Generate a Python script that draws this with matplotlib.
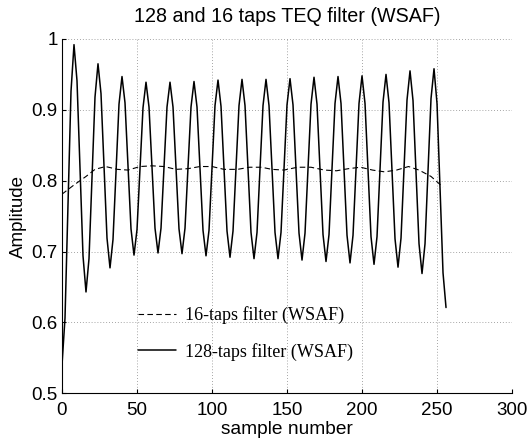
import numpy as np
import matplotlib
matplotlib.use('Agg')
import matplotlib.pyplot as plt
from matplotlib.ticker import FormatStrFormatter

# sample positions of the read-off points (every 2nd sample)
samples_128 = np.arange(0, 257, 2)
# 128-taps filter amplitude, one row per 16-sample period
amp_128 = [
    0.540, 0.606, 0.766, 0.926, 0.992, 0.941, 0.818, 0.694,
    0.643, 0.690, 0.804, 0.918, 0.965, 0.923, 0.821, 0.719,
    0.677, 0.717, 0.812, 0.908, 0.947, 0.910, 0.821, 0.732,
    0.695, 0.731, 0.817, 0.903, 0.939, 0.904, 0.819, 0.733,
    0.698, 0.733, 0.819, 0.904, 0.939, 0.904, 0.818, 0.732,
    0.697, 0.733, 0.819, 0.904, 0.940, 0.904, 0.817, 0.730,
    0.694, 0.730, 0.818, 0.906, 0.942, 0.905, 0.817, 0.729,
    0.692, 0.729, 0.818, 0.906, 0.943, 0.906, 0.817, 0.727,
    0.690, 0.727, 0.817, 0.906, 0.943, 0.906, 0.817, 0.727,
    0.690, 0.727, 0.817, 0.907, 0.944, 0.907, 0.816, 0.726,
    0.688, 0.726, 0.817, 0.908, 0.946, 0.908, 0.816, 0.724,
    0.686, 0.724, 0.817, 0.909, 0.947, 0.909, 0.816, 0.723,
    0.684, 0.723, 0.816, 0.909, 0.948, 0.909, 0.815, 0.721,
    0.682, 0.721, 0.816, 0.911, 0.950, 0.910, 0.814, 0.718,
    0.678, 0.719, 0.817, 0.914, 0.955, 0.913, 0.812, 0.711,
    0.669, 0.711, 0.814, 0.916, 0.958, 0.909, 0.790, 0.670,
    0.621,
]

# 16-taps filter
samples_16 = [0, 8, 16, 22, 29, 37, 44, 52, 60, 68, 76, 84, 92, 100, 108, 117,
              125, 133, 140, 148, 157, 166, 175, 183, 191, 199, 207, 215, 223,
              231, 238, 246, 254]
amp_16 = [0.781, 0.794, 0.806, 0.816, 0.820, 0.816, 0.815, 0.820, 0.821, 0.820,
          0.816, 0.817, 0.820, 0.820, 0.816, 0.816, 0.819, 0.819, 0.816, 0.815,
          0.819, 0.819, 0.815, 0.814, 0.817, 0.819, 0.815, 0.8125, 0.815, 0.820,
          0.815, 0.806, 0.791]

labels = ['16-taps filter (WSAF)', '128-taps filter (WSAF)']

plt.rcParams['font.family'] = ['Liberation Sans', 'DejaVu Sans']
plt.rcParams['path.simplify'] = False

fig = plt.figure(figsize=(5.29, 4.41), dpi=100)
ax = fig.add_axes([0.1172, 0.1082, 0.8507, 0.8034])

l16, = ax.plot(samples_16, amp_16, color='black', lw=0.8, dashes=(5, 3))
l128, = ax.plot(samples_128, amp_128, color='black', lw=1.1,
                solid_joinstyle='round', solid_capstyle='round')

ax.set_xlim(0, 300)
ax.set_ylim(0.5, 1)
ax.set_xticks(np.arange(0, 301, 50))
ax.set_yticks(np.arange(0.5, 1.01, 0.1))
ax.yaxis.set_major_formatter(FormatStrFormatter('%g'))
ax.grid(True, linestyle=(0, (1, 2.5)), color='#888888', lw=0.6)
ax.spines['top'].set_visible(False)
ax.spines['right'].set_visible(False)
ax.tick_params(direction='in', length=3, labelsize=13.5)
ax.tick_params(axis='x', pad=6.5)
ax.tick_params(axis='y', pad=3)

ax.set_title('128 and 16 taps TEQ filter (WSAF)', fontsize=14.2, pad=12)
ax.set_xlabel('sample number', fontsize=13.8, labelpad=1)
ax.set_ylabel('Amplitude', fontsize=13.5, labelpad=3)

ax.legend([l16, l128], labels, loc='center left', bbox_to_anchor=(0.168, 0.169),
          frameon=False, borderpad=0, borderaxespad=0, handlelength=2.1,
          handletextpad=0.5, labelspacing=1.02,
          prop={'family': 'Liberation Serif', 'size': 13})

fig.savefig('out.png', dpi=100)
